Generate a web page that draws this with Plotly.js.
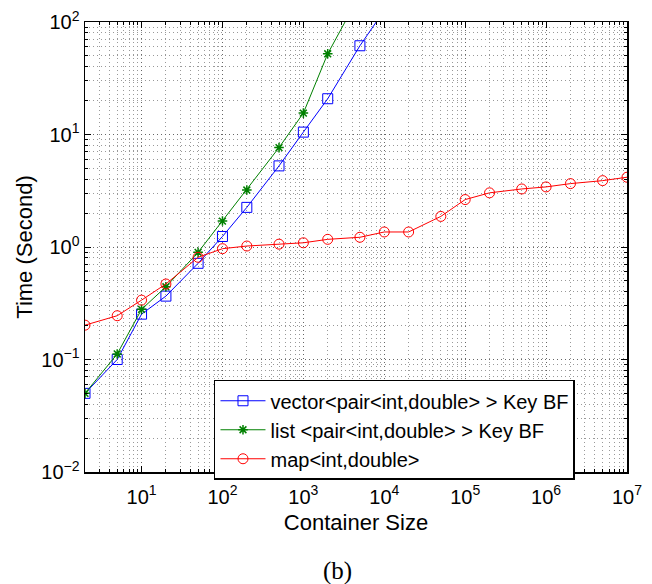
<!DOCTYPE html>
<html>
<head>
<meta charset="utf-8">
<script src="https://cdn.plot.ly/plotly-3.0.1.min.js"></script>
<style>html,body{margin:0;padding:0;background:#fff;}#chart{width:652px;height:584px;}</style>
</head>
<body>
<div id="chart"></div>
<script>
// Container sizes
const sizesVector = [2, 5, 10, 20, 50, 100, 200, 500, 1000, 2000, 5000, 10000];
const timesVector = [0.05, 0.1, 0.253, 0.366, 0.716, 1.24, 2.25, 5.26, 10.5, 20.8, 61.5, 127];

const sizesList = [2, 5, 10, 20, 50, 100, 200, 500, 1000, 2000, 5000];
const timesList = [0.05, 0.112, 0.279, 0.443, 0.897, 1.70, 3.21, 7.65, 15.5, 52.2, 175];

const sizesMap = [2, 5, 10, 20, 50, 100, 200, 500, 1000, 2000, 5000, 10000, 20000, 50000,
                  100000, 200000, 500000, 1000000, 2000000, 5000000, 10000000];
const timesMap = [0.202, 0.245, 0.337, 0.469, 0.81, 0.966, 1.02, 1.06, 1.09, 1.17, 1.22, 1.36, 1.36, 1.87,
                  2.64, 3.03, 3.28, 3.42, 3.66, 3.89, 4.17];

const seriesNames = ["vector&lt;pair&lt;int,double&gt; &gt; Key BF", "list &lt;pair&lt;int,double&gt; &gt; Key BF", "map&lt;int,double&gt;"];

const xTickVals = [10, 100, 1000, 10000, 100000, 1000000, 10000000];
const xTickText = ["10<sup>1</sup>", "10<sup>2</sup>", "10<sup>3</sup>", "10<sup>4</sup>", "10<sup>5</sup>", "10<sup>6</sup>", "10<sup>7</sup>"];
const yTickVals = [0.01, 0.1, 1, 10, 100];
const yTickText = ["10<sup>−2</sup>", "10<sup>−1</sup>", "10<sup>0</sup>", "10<sup>1</sup>", "10<sup>2</sup>"];

const FONT = "Liberation Sans, Arial, Helvetica, sans-serif";

const traces = [
  {x: sizesVector, y: timesVector, name: seriesNames[0], type: "scatter", mode: "lines+markers",
   line: {color: "#0000ff", width: 1},
   marker: {symbol: "square-open", size: 10, color: "#0000ff", line: {color: "#0000ff", width: 1}}},
  {x: sizesList, y: timesList, name: seriesNames[1], type: "scatter", mode: "lines+markers",
   line: {color: "#008000", width: 1},
   marker: {symbol: "asterisk-open", size: 8, color: "#008000", line: {color: "#008000", width: 1.5}}},
  {x: sizesMap, y: timesMap, name: seriesNames[2], type: "scatter", mode: "lines+markers",
   line: {color: "#ff0000", width: 1},
   marker: {symbol: "circle-open", size: 10, color: "#ff0000", line: {color: "#ff0000", width: 1}}}
];

const gridStyle = {showgrid: true, gridcolor: "#666", griddash: "1px,3px", gridwidth: 1};

const layout = {
  width: 652, height: 584,
  margin: {l: 85, r: 25, t: 22, b: 112},
  paper_bgcolor: "#fff", plot_bgcolor: "#fff",
  font: {family: FONT, size: 20, color: "#000"},
  showlegend: true,
  legend: {x: 0.238, y: 0.205, xanchor: "left", yanchor: "top",
           bgcolor: "#fff", bordercolor: "#000", borderwidth: 1.5,
           itemwidth: 45,
           font: {family: FONT, size: 20, color: "#000"}, tracegroupgap: 0},
  xaxis: Object.assign({
    type: "log", range: [Math.log10(2), 7],
    tickvals: xTickVals, ticktext: xTickText,
    ticks: "inside", ticklen: 6, tickcolor: "#000", tickwidth: 1,
    showline: true, linecolor: "#000", linewidth: 1.5, mirror: "allticks",
    tickfont: {family: FONT, size: 20},
    ticklabelstandoff: 6,
    zeroline: false,
    minor: {dtick: "D1", ticks: "inside", ticklen: 3, tickcolor: "#000",
            showgrid: true, gridcolor: "#999", griddash: "1px,3px", gridwidth: 1},
    title: {text: "Container Size", font: {family: FONT, size: 22}, standoff: 8}
  }, gridStyle),
  yaxis: Object.assign({
    type: "log", range: [-2, 2],
    tickvals: yTickVals, ticktext: yTickText,
    ticks: "inside", ticklen: 6, tickcolor: "#000", tickwidth: 1,
    showline: true, linecolor: "#000", linewidth: 1.5, mirror: "allticks",
    tickfont: {family: FONT, size: 20},
    zeroline: false,
    minor: {dtick: "D1", ticks: "inside", ticklen: 3, tickcolor: "#000",
            showgrid: true, gridcolor: "#999", griddash: "1px,3px", gridwidth: 1},
    title: {text: "Time (Second)", font: {family: FONT, size: 22}, standoff: 2}
  }, gridStyle),
  annotations: [
    {text: "(b)", xref: "paper", yref: "paper", x: 0.466, y: -0.22, showarrow: false,
     xanchor: "center", yanchor: "middle",
     font: {family: "Liberation Serif, DejaVu Serif, serif", size: 25, color: "#000"}}
  ]
};

Plotly.newPlot("chart", traces, layout, {displayModeBar: false, staticPlot: true});
</script>
</body>
</html>
